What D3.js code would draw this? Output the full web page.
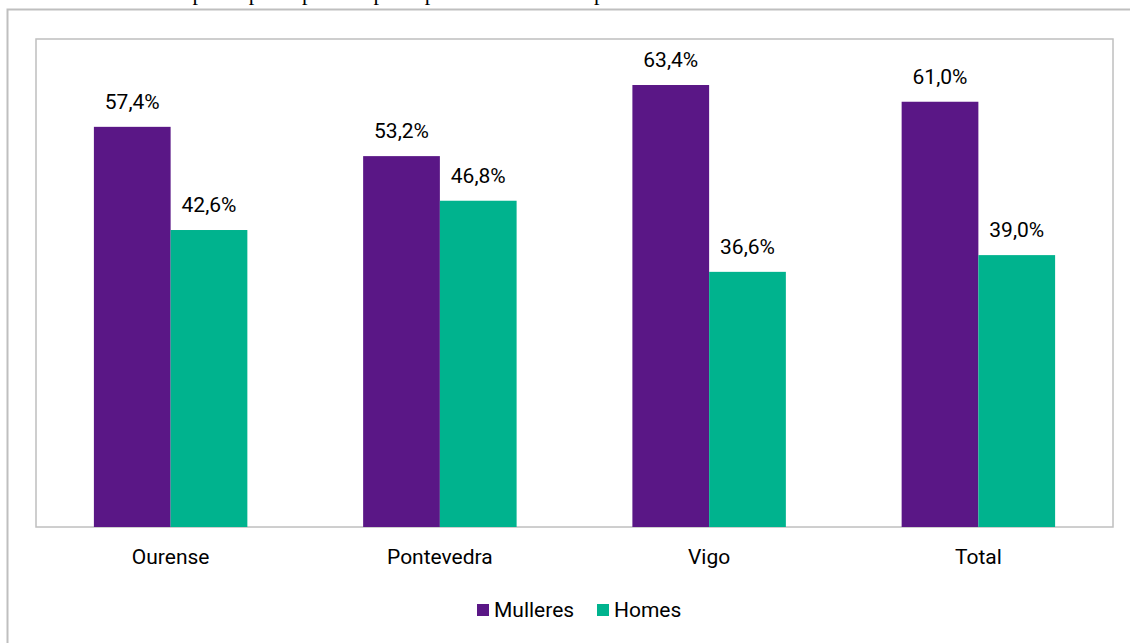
<!DOCTYPE html>
<html>
<head>
<meta charset="utf-8">
<script src="https://cdn.jsdelivr.net/npm/d3@7"></script>
<style>
  html, body { margin: 0; padding: 0; background: #fff; }
  svg { display: block; }
</style>
</head>
<body>
<svg id="chart" width="1130" height="643"></svg>
<script>
const categories = ["Ourense", "Pontevedra", "Vigo", "Total"];
const seriesNames = ["Mulleres", "Homes"];
const mulleres = [57.4, 53.2, 63.4, 61.0];
const homes = [42.6, 46.8, 36.6, 39.0];
const colors = ["#5a1786", "#00b38e"];

const svg = d3.select("#chart");
const W = 1130, H = 643;
const FONT = "Roboto, sans-serif";

// title, cut off at the top edge as in the reference
svg.append("text")
  .attr("x", 2).attr("y", 0)
  .attr("font-family", "Liberation Serif, Times New Roman, serif")
  .attr("font-size", 22)
  .attr("fill", "#000")
  .text("Gráfica 3. Alumnado participante por campus e por sexo. Datos en porcentaxes");

// outer frame
svg.append("rect")
  .attr("x", 7.5).attr("y", 9.5)
  .attr("width", W + 20).attr("height", H + 20)
  .attr("fill", "none").attr("stroke", "#bfbfbf").attr("stroke-width", 2);

const plot = { left: 36, top: 39, right: 1113, bottom: 527 };

const x0 = d3.scaleBand().domain(categories)
  .range([plot.left, plot.right]).paddingInner(0.43).paddingOuter(0.215);
const x1 = d3.scaleBand().domain(seriesNames).range([0, x0.bandwidth()]).padding(0);
const y = d3.scaleLinear().domain([0, 70]).range([plot.bottom, plot.top]);

// plot area border
svg.append("rect")
  .attr("x", plot.left).attr("y", plot.top)
  .attr("width", plot.right - plot.left).attr("height", plot.bottom - plot.top)
  .attr("fill", "none").attr("stroke", "#bfbfbf").attr("stroke-width", 1.5);

const data = categories.map((c, i) => ({ cat: c, vals: [mulleres[i], homes[i]] }));

const g = svg.append("g");
const groups = g.selectAll("g.grp").data(data).enter().append("g")
  .attr("transform", d => `translate(${x0(d.cat)},0)`);

groups.selectAll("rect").data(d => d.vals.map((v, j) => ({ s: seriesNames[j], v, j })))
  .enter().append("rect")
  .attr("x", d => x1(d.s))
  .attr("y", d => y(d.v))
  .attr("width", x1.bandwidth())
  .attr("height", d => y(0) - y(d.v))
  .attr("fill", d => colors[d.j]);

groups.selectAll("text").data(d => d.vals.map((v, j) => ({ s: seriesNames[j], v, j })))
  .enter().append("text")
  .attr("x", d => x1(d.s) + x1.bandwidth() / 2)
  .attr("y", d => y(d.v) - 18)
  .attr("text-anchor", "middle")
  .attr("font-family", FONT)
  .attr("font-size", 21)
  .attr("fill", "#000")
  .text(d => d3.format(".1f")(d.v).replace(".", ",") + "%");

// x axis labels
const xAxis = d3.axisBottom(x0).tickSize(0).tickPadding(22);
const ax = svg.append("g").attr("transform", `translate(0,${plot.bottom})`).call(xAxis);
ax.select(".domain").remove();
ax.selectAll("text")
  .attr("font-family", FONT)
  .attr("font-size", 21)
  .attr("fill", "#000");

// legend
const legendItems = [
  { name: "Mulleres", color: colors[0], x: 477 },
  { name: "Homes", color: colors[1], x: 597 }
];
const lg = svg.append("g");
legendItems.forEach(it => {
  lg.append("rect").attr("x", it.x).attr("y", 604).attr("width", 12).attr("height", 12).attr("fill", it.color);
  lg.append("text").attr("x", it.x + 17).attr("y", 617)
    .attr("font-family", FONT).attr("font-size", 21).attr("fill", "#000")
    .text(it.name);
});
</script>
</body>
</html>
